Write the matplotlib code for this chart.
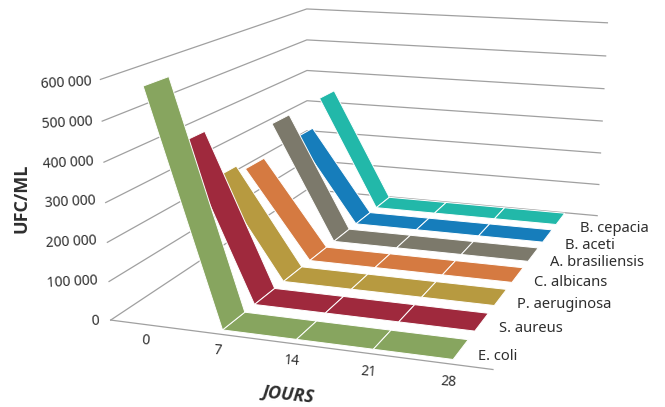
import matplotlib
matplotlib.use("Agg")
import matplotlib.pyplot as plt
from mpl_toolkits.mplot3d.art3d import Poly3DCollection

plt.rcParams["font.family"] = ["Noto Sans", "DejaVu Sans"]

W, H = 665, 407

jours = ["0", "7", "14", "21", "28"]
ticks_ufc = [0, 100000, 200000, 300000, 400000, 500000, 600000]
tick_labels = ["0", "100 000", "200 000", "300 000", "400 000", "500 000", "600 000"]

# germs from the front of the floor to the back wall
germes = ["E. coli", "S. aureus", "P. aeruginosa", "C. albicans",
          "A. brasiliensis", "B. aceti", "B. cepacia"]
e_coli = [585000, 0, 0, 0, 0]
s_aureus = [408000, 0, 0, 0, 0]
p_aeruginosa = [270000, 0, 0, 0, 0]
c_albicans = [248000, 0, 0, 0, 0]
a_brasiliensis = [337000, 0, 0, 0, 0]
b_aceti = [256000, 0, 0, 0, 0]
b_cepacia = [340000, 0, 0, 0, 0]
series = [e_coli, s_aureus, p_aeruginosa, c_albicans, a_brasiliensis, b_aceti, b_cepacia]
couleurs = ["#87A55F", "#9F293D", "#B79A40", "#D57A41", "#7C796B", "#167DBB", "#22B8A9"]

GRIS = "#a0a0a0"
TEXTE = "#2e2e2e"
UNIT = 100000.0
DEPTH = len(germes)
NX = len(jours)

fig = plt.figure(figsize=(W / 100, H / 100), dpi=100)
side = 669.6
ax = fig.add_axes([-24.7 / W, -157.2 / H, side / W, side / H], projection="3d",
                  computed_zorder=False)
ax.set_axis_off()
ax.patch.set_alpha(0)
ax.view_init(elev=15.655, azim=-69.803, roll=0.068)
ax.set_proj_type("persp", focal_length=0.3964)
ax.set_box_aspect((1.6057, 2.2946, 1))
ax.set_xlim(2.091 - 2.5, 2.091 + 2.5, view_margin=0)
ax.set_ylim(2.009 - 3.5, 2.009 + 3.5, view_margin=0)
ax.set_zlim(1.899 - 3, 1.899 + 3, view_margin=0)

# walls and floor lines
for t in ticks_ufc:
    z = t / UNIT
    ax.plot([0, 0, NX], [0, DEPTH, DEPTH], [z, z, z], color=GRIS, lw=0.9, zorder=1)
ax.plot([0, NX], [0, 0], [0, 0], color=GRIS, lw=0.9, zorder=1)

# ribbons, drawn from the back so the front ones overlap them
half = 0.35
for i in range(DEPTH - 1, -1, -1):
    yc = 0.5 + 1.02 * i
    vals = series[i]
    quads = []
    for k in range(NX - 1):
        x0, x1 = 0.5 + 0.995 * k, 0.5 + 0.995 * (k + 1)
        z0, z1 = vals[k] / UNIT, vals[k + 1] / UNIT
        quads.append([(x0, yc - half, z0), (x1, yc - half, z1),
                      (x1, yc + half, z1), (x0, yc + half, z0)])
    poly = Poly3DCollection(quads, facecolor=couleurs[i], edgecolor="white", linewidth=0.7)
    poly.set_zorder(10 + DEPTH - i)
    ax.add_collection3d(poly, autolim=False)


def label(px, py, s, **kw):
    kw.setdefault("color", TEXTE)
    kw.setdefault("fontsize", 10)
    kw.setdefault("va", "center")
    kw.setdefault("ha", "center")
    fig.text(px / W, 1 - py / H, s, **kw)


# value labels
pos_ufc = [(95, 321), (72.5, 282), (71, 242), (70, 202), (68.5, 163), (67, 123), (66, 83)]
for (px, py), s in zip(pos_ufc, tick_labels):
    label(px, py, s, rotation=3, rotation_mode="anchor")

# day labels
pos_jours = [(146, 341), (218, 351), (292, 361), (368, 372), (449, 382)]
for (px, py), s in zip(pos_jours, jours):
    label(px, py, s, rotation=-4, rotation_mode="anchor")

# germ names, left aligned next to the end of each ribbon
pos_germes = [(478, 357), (499, 329), (517, 304), (534, 283), (550, 263), (565, 245), (580, 228)]
for (px, py), s in zip(pos_germes, germes):
    label(px, py, s, ha="left", fontsize=10.6)

label(21, 198, "UFC/ML", rotation=90, fontweight="bold", fontsize=13, family="Open Sans")
label(289, 395, "JOURS", rotation=-6, fontweight="bold", style="italic", fontsize=13,
      family="Open Sans", rotation_mode="anchor")

fig.savefig("out.png", dpi=100)
